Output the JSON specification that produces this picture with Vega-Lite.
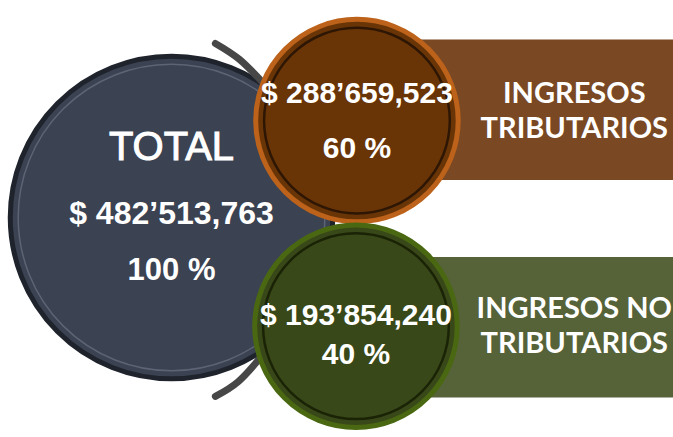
{
  "$schema": "https://vega.github.io/schema/vega-lite/v6.json",
  "width": 673,
  "height": 437,
  "autosize": {"type": "fit", "contains": "padding"},
  "padding": 0,
  "background": "white",
  "config": {"view": {"stroke": null}},
  "datasets": {
    "nodes": [
      {"id": "total", "label": "TOTAL", "amount": "$ 482’513,763", "pct": "100 %", "x": 170, "y": 220, "label_y": 150, "amount_y": 216, "pct_y": 274},
      {"id": "trib", "label": "", "amount": "$ 288’659,523", "pct": "60 %", "x": 356, "y": 122, "label_y": 0, "amount_y": 95, "pct_y": 151},
      {"id": "notrib", "label": "", "amount": "$ 193’854,240", "pct": "40 %", "x": 355, "y": 330, "label_y": 0, "amount_y": 320, "pct_y": 359}
    ],
    "bands": [
      {"id": "trib", "x1": 400, "x2": 673, "y1": 40, "y2": 182, "line1": "INGRESOS", "line2": "TRIBUTARIOS", "tx": 574, "t1": 95, "t2": 130},
      {"id": "notrib", "x1": 400, "x2": 673, "y1": 260, "y2": 402, "line1": "INGRESOS NO", "line2": "TRIBUTARIOS", "tx": 574, "t1": 313, "t2": 348}
    ],
    "handles": [
      {"h": "top", "seq": 1, "x": 214, "y": 44},
      {"h": "top", "seq": 2, "x": 238, "y": 60},
      {"h": "top", "seq": 3, "x": 262, "y": 84},
      {"h": "bottom", "seq": 1, "x": 214, "y": 401},
      {"h": "bottom", "seq": 2, "x": 237, "y": 386},
      {"h": "bottom", "seq": 3, "x": 259, "y": 362}
    ]
  },
  "resolve": {"scale": {"color": "independent", "stroke": "independent"}},
  "layer": [
    {
      "data": {"name": "nodes"},
      "transform": [{"filter": "datum.id === 'total'"}],
      "mark": {"type": "point", "shape": "circle", "filled": true, "size": 104000, "color": "#3b4252", "stroke": "#1f232c", "strokeWidth": 5, "opacity": 1},
      "encoding": {
        "x": {"field": "x", "type": "quantitative", "scale": {"domain": [0, 673], "nice": false, "zero": false}, "axis": null},
        "y": {"field": "y", "type": "quantitative", "scale": {"domain": [0, 437], "nice": false, "zero": false, "reverse": true}, "axis": null}
      }
    },
    {
      "data": {"name": "handles"},
      "mark": {"type": "line", "color": "#474747", "strokeWidth": 7, "strokeCap": "round", "interpolate": "monotone"},
      "encoding": {
        "x": {"field": "x", "type": "quantitative"},
        "y": {"field": "y", "type": "quantitative"},
        "detail": {"field": "h"},
        "order": {"field": "seq"}
      }
    },
    {
      "data": {"name": "nodes"},
      "transform": [{"filter": "datum.id === 'total'"}],
      "mark": {"type": "point", "shape": "circle", "filled": false, "size": 94000, "stroke": "#5d6474", "strokeWidth": 1.5, "opacity": 1},
      "encoding": {
        "x": {"field": "x", "type": "quantitative"},
        "y": {"field": "y", "type": "quantitative"}
      }
    },
    {
      "layer": [
        {
          "data": {"name": "bands"},
          "mark": {"type": "rect"},
          "encoding": {
            "x": {"field": "x1", "type": "quantitative"},
            "x2": {"field": "x2"},
            "y": {"field": "y1", "type": "quantitative"},
            "y2": {"field": "y2"},
            "color": {"field": "id", "type": "nominal", "scale": {"domain": ["trib", "notrib"], "range": ["#7a4923", "#566238"]}, "legend": null}
          }
        }
      ]
    },
    {
      "layer": [
        {
          "data": {"name": "nodes"},
          "transform": [{"filter": "datum.id !== 'total'"}],
          "mark": {"type": "point", "shape": "circle", "filled": true, "size": 41000, "strokeWidth": 5, "opacity": 1},
          "encoding": {
            "x": {"field": "x", "type": "quantitative"},
            "y": {"field": "y", "type": "quantitative"},
            "color": {"field": "id", "type": "nominal", "scale": {"domain": ["trib", "notrib"], "range": ["#693507", "#394818"]}, "legend": null},
            "stroke": {"field": "id", "type": "nominal", "scale": {"domain": ["trib", "notrib"], "range": ["#bd621a", "#4a6812"]}, "legend": null}
          }
        }
      ]
    },
    {
      "layer": [
        {
          "data": {"name": "nodes"},
          "transform": [{"filter": "datum.id !== 'total'"}],
          "mark": {"type": "point", "shape": "circle", "filled": false, "size": 34500, "strokeWidth": 2.5, "opacity": 1},
          "encoding": {
            "x": {"field": "x", "type": "quantitative"},
            "y": {"field": "y", "type": "quantitative"},
            "stroke": {"field": "id", "type": "nominal", "scale": {"domain": ["trib", "notrib"], "range": ["#2e1604", "#1a2306"]}, "legend": null}
          }
        }
      ]
    },
    {
      "data": {"name": "nodes"},
      "transform": [{"filter": "datum.id === 'total'"}],
      "mark": {"type": "text", "font": "Liberation Sans", "fontSize": 40, "fontWeight": "normal", "color": "white", "stroke": "white", "strokeWidth": 1, "baseline": "middle", "align": "center"},
      "encoding": {
        "x": {"field": "x", "type": "quantitative"},
        "y": {"field": "label_y", "type": "quantitative"},
        "text": {"field": "label"}
      }
    },
    {
      "data": {"name": "nodes"},
      "transform": [{"filter": "datum.id === 'total'"}],
      "mark": {"type": "text", "font": "Liberation Sans", "fontSize": 32, "fontWeight": "bold", "color": "white", "baseline": "middle", "align": "center"},
      "encoding": {
        "x": {"field": "x", "type": "quantitative"},
        "y": {"field": "amount_y", "type": "quantitative"},
        "text": {"field": "amount"}
      }
    },
    {
      "data": {"name": "nodes"},
      "transform": [{"filter": "datum.id === 'total'"}],
      "mark": {"type": "text", "font": "Liberation Sans", "fontSize": 31, "fontWeight": "bold", "color": "white", "baseline": "middle", "align": "center"},
      "encoding": {
        "x": {"field": "x", "type": "quantitative"},
        "y": {"field": "pct_y", "type": "quantitative"},
        "text": {"field": "pct"}
      }
    },
    {
      "data": {"name": "nodes"},
      "transform": [{"filter": "datum.id !== 'total'"}],
      "mark": {"type": "text", "font": "Liberation Sans", "fontSize": 30, "fontWeight": "bold", "color": "white", "baseline": "middle", "align": "center"},
      "encoding": {
        "x": {"field": "x", "type": "quantitative"},
        "y": {"field": "amount_y", "type": "quantitative"},
        "text": {"field": "amount"}
      }
    },
    {
      "data": {"name": "nodes"},
      "transform": [{"filter": "datum.id !== 'total'"}],
      "mark": {"type": "text", "font": "Liberation Sans", "fontSize": 30, "fontWeight": "bold", "color": "white", "baseline": "middle", "align": "center"},
      "encoding": {
        "x": {"field": "x", "type": "quantitative"},
        "y": {"field": "pct_y", "type": "quantitative"},
        "text": {"field": "pct"}
      }
    },
    {
      "data": {"name": "bands"},
      "mark": {"type": "text", "font": "Lato", "fontSize": 29, "fontWeight": "bold", "color": "white", "baseline": "middle", "align": "center"},
      "encoding": {
        "x": {"field": "tx", "type": "quantitative"},
        "y": {"field": "t1", "type": "quantitative"},
        "text": {"field": "line1"}
      }
    },
    {
      "data": {"name": "bands"},
      "mark": {"type": "text", "font": "Lato", "fontSize": 29, "fontWeight": "bold", "color": "white", "baseline": "middle", "align": "center"},
      "encoding": {
        "x": {"field": "tx", "type": "quantitative"},
        "y": {"field": "t2", "type": "quantitative"},
        "text": {"field": "line2"}
      }
    }
  ]
}
